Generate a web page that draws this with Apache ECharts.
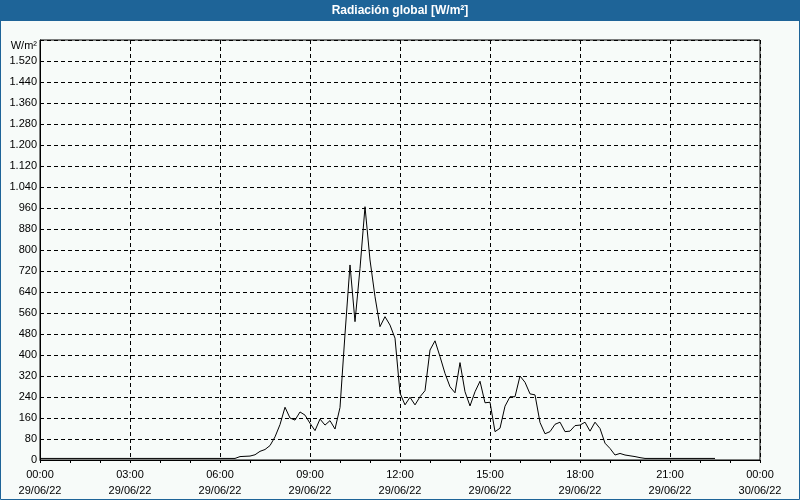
<!DOCTYPE html>
<html>
<head>
<meta charset="utf-8">
<script src="https://cdn.jsdelivr.net/npm/echarts@6/dist/echarts.min.js"></script>
<style>
html,body{margin:0;padding:0;background:#f7fbf9;}
#c{width:800px;height:500px;}
</style>
</head>
<body>
<div id="c"></div>
<script>
// ---- data ----
const chartTitle = 'Radiación global [W/m²]';
const unitLabel = 'W/m²';
const startHour = 0;          // 00:00 29/06/22
const stepMinutes = 10;       // sampling step
// radiation values every 10 min from 00:00 to 22:30
const radiation = [
  6,6,6,6,6,6, 6,6,6,6,6,6, 6,6,6,6,6,6, 6,6,6,6,6,6,   // 00-04
  6,6,6,6,6,6, 6,6,6,6,6,6,                             // 04-06
  6,6,6,6,13,14,                                        // 06:00-06:50
  15,20,33,40,55,88,                                    // 07
  135,201,160,152,183,171,                              // 08
  140,112,156,133,150,118,                              // 09
  200,480,743,527,730,965,                              // 10
  762,622,508,546,514,464,                              // 11
  255,210,239,210,241,264,                              // 12
  419,454,394,330,279,256,                              // 13
  371,260,206,260,300,218,                              // 14
  220,108,121,205,241,241,                              // 15
  320,296,252,248,143,100,                              // 16
  108,136,144,108,110,131,                              // 17
  133,144,110,144,120,64,                               // 18
  44,19,25,19,16,13,                                    // 19
  9,6,6,6,6,6,                                          // 20
  6,6,6,6,6,6,                                          // 21
  6,6,6,6                                               // 22:00-22:30
];
const timeLabels = ['00:00','03:00','06:00','09:00','12:00','15:00','18:00','21:00','00:00'];
const dateLabels = ['29/06/22','29/06/22','29/06/22','29/06/22','29/06/22','29/06/22','29/06/22','29/06/22','30/06/22'];

const seriesData = radiation.map((v, i) => [startHour + i * stepMinutes / 60, v]);

function fmtY(v) {
  if (v >= 1600) return '';
  if (v >= 1000) return Math.floor(v / 1000) + '.' + String(v % 1000).padStart(3, '0');
  return String(v);
}

const chart = echarts.init(document.getElementById('c'), null, {renderer: 'canvas'});
const font = 'Liberation Sans, Arial, sans-serif';
chart.setOption({
  backgroundColor: '#f7fbf9',
  animation: false,
  graphic: [
    {type: 'rect', z: 0, shape: {x: 0, y: 0, width: 800, height: 21}, style: {fill: '#1e6498'}},
    {type: 'rect', z: 0, shape: {x: 0.5, y: 0.5, width: 799, height: 499}, style: {fill: null, stroke: '#1e6498', lineWidth: 1}},
    {type: 'text', z: 10, style: {text: chartTitle, x: 400, y: 11, align: 'center', verticalAlign: 'middle', fill: '#ffffff', font: 'bold 12px ' + font}},
    {type: 'text', z: 10, style: {text: unitLabel, x: 37, y: 46, align: 'right', verticalAlign: 'middle', fill: '#000', font: '11px ' + font}}
  ],
  grid: {left: 40, right: 40, top: 40, bottom: 40, show: true, borderColor: '#000', borderWidth: 1, backgroundColor: 'transparent'},
  xAxis: {
    type: 'value', min: 0, max: 24, interval: 3,
    axisLine: {show: true, lineStyle: {color: '#000', width: 1}},
    axisTick: {show: true, length: 3, lineStyle: {color: '#000'}},
    minorTick: {show: true, splitNumber: 3, length: 3, lineStyle: {color: '#000'}},
    splitLine: {show: true, lineStyle: {color: '#000', type: [4, 3], width: 1}},
    axisLabel: {
      margin: 7, color: '#000', fontSize: 11, fontFamily: font, lineHeight: 16,
      showMinLabel: true, showMaxLabel: true,
      formatter: v => { const k = Math.round(v / 3); return timeLabels[k] + '\n' + dateLabels[k]; }
    }
  },
  yAxis: {
    type: 'value', min: 0, max: 1600, interval: 80,
    axisLine: {show: true, lineStyle: {color: '#000', width: 1}},
    axisTick: {show: false},
    splitLine: {show: true, lineStyle: {color: '#000', type: [4, 3], width: 1}},
    axisLabel: {margin: 3, color: '#000', fontSize: 11, fontFamily: font, formatter: fmtY}
  },
  series: [{
    type: 'line', data: seriesData, showSymbol: false, symbol: 'none',
    lineStyle: {color: '#000', width: 1}, z: 5
  }]
});
</script>
</body>
</html>
